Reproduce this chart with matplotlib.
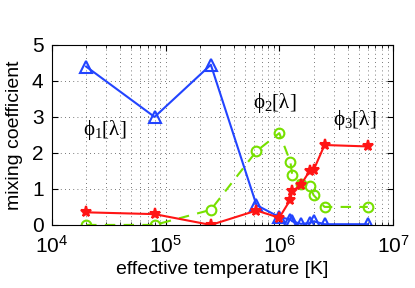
import matplotlib
matplotlib.use('Agg')
import matplotlib.pyplot as plt
import numpy as np

plt.rcParams['font.family'] = ['Liberation Sans', 'DejaVu Sans']
plt.rcParams['mathtext.fontset'] = 'custom'
plt.rcParams['mathtext.rm'] = 'Liberation Serif'
plt.rcParams['mathtext.it'] = 'Liberation Serif'

# Data
temps = [2e4, 8e4, 2.5e5, 6.3e5, 1.0e6, 1.25e6, 1.3e6, 1.55e6, 1.85e6, 2.0e6, 2.5e6, 6e6]
phi1 = [4.4, 3.0, 4.45, 0.55, 0.22, 0.15, 0.1, 0.03, 0.05, 0.1, 0.02, 0.02]
phi2 = [0.0, 0.0, 0.42, 2.05, 2.55, 1.76, 1.39, 1.15, 1.08, 0.83, 0.5, 0.5]
phi3 = [0.35, 0.3, 0.0, 0.4, 0.2, 0.7, 0.93, 1.12, 1.5, 1.52, 2.22, 2.18]

fig = plt.figure(figsize=(4.15, 2.88), dpi=100)
ax = fig.add_axes([0.125, 0.219, 0.822, 0.625])

ax.plot(temps, phi1, '-^', color='#2244ff', lw=1.5, ms=8, mfc='none', mew=1.5)
ax.plot(temps, phi2, '--o', color='#77e000', lw=1.5, ms=7, mfc='none', mew=1.5,
        dashes=(5, 4))
ax.plot(temps, phi3, '-*', color='#ff1515', lw=1.5, ms=8, mew=1.5)

ax.set_xscale('log')
ax.set_xlim(1e4, 1e7)
ax.set_ylim(0, 5)
ax.set_yticks([0, 1, 2, 3, 4, 5])

ax.grid(True, which='major', linestyle=(0, (1, 4)), color='black', lw=0.6, alpha=0.7)
ax.grid(True, which='minor', axis='x', linestyle=(0, (1, 4)), color='black', lw=0.6, alpha=0.7)

ax.tick_params(which='both', direction='in', top=True, right=True, labelsize=15)
ax.tick_params(axis='x', which='major', length=4, pad=7)
ax.tick_params(axis='y', which='major', length=4, pad=6)
ax.tick_params(which='minor', length=2)

ax.set_xlabel('effective temperature [K]', fontsize=14, labelpad=3)
ax.set_ylabel('mixing coefficient', fontsize=14, labelpad=6)

ax.text(2.9e4, 2.64, r'$\mathrm{\phi_1[\lambda]}$', fontsize=15, ha='center', va='center')
ax.text(9.1e5, 3.39, r'$\mathrm{\phi_2[\lambda]}$', fontsize=15, ha='center', va='center')
ax.text(4.6e6, 2.92, r'$\mathrm{\phi_3[\lambda]}$', fontsize=15, ha='center', va='center')

fig.savefig('out.png', dpi=100)
